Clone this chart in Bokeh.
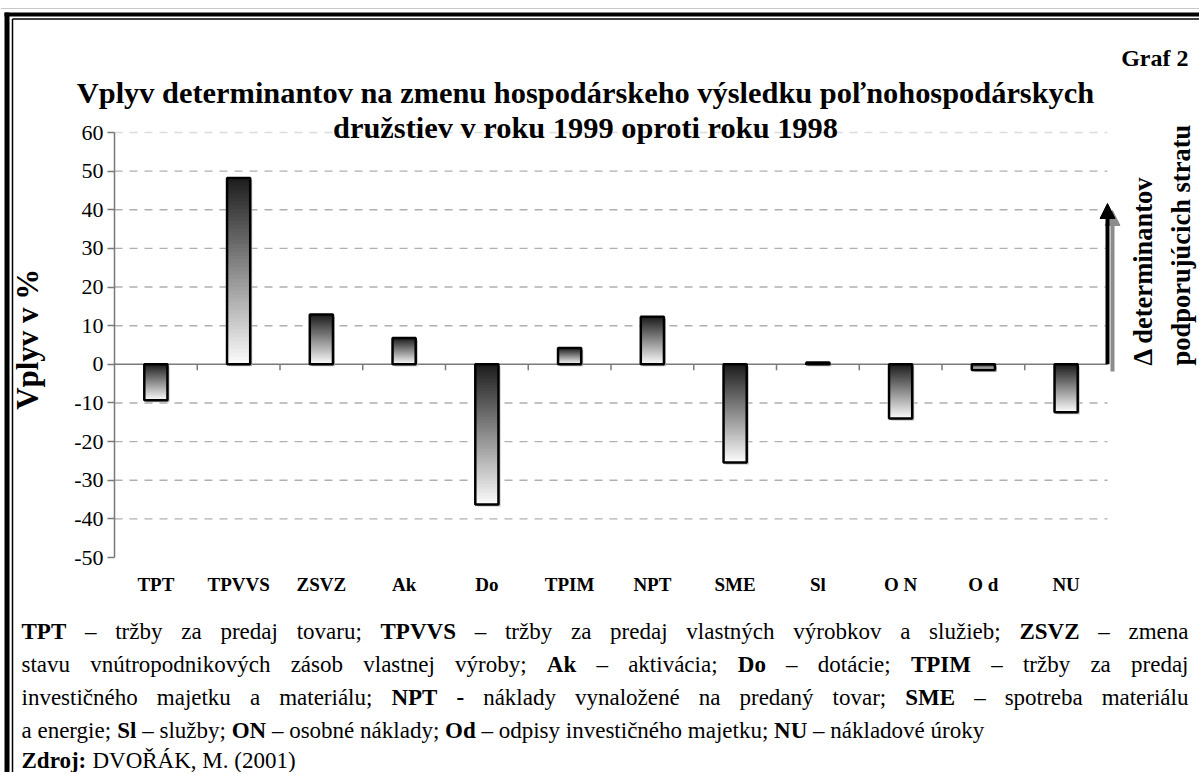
import math
import unicodedata
from bokeh.plotting import figure
from bokeh.models import (Range1d, FixedTicker, Label, LabelSet, ColumnDataSource,
                          Arrow, NormalHead, LinearAxis)
from bokeh.core.properties import value
from bokeh.embed import file_html
from bokeh.resources import INLINE

# ---------------- data ----------------
categories = ["TPT", "TPVVS", "ZSVZ", "Ak", "Do", "TPIM", "NPT", "SME", "Sl", "O N", "O d", "NU"]
values = [-9.3, 48.2, 12.9, 6.8, -36.3, 4.2, 12.3, -25.4, 0.5, -14.0, -1.5, -12.4]
y_ticks = [-50, -40, -30, -20, -10, 0, 10, 20, 30, 40, 50, 60]

title_lines = ["Vplyv determinantov na zmenu hospodárskeho výsledku poľnohospodárskych",
               "družstiev v roku 1999 oproti roku 1998"]
graf_label = "Graf 2"
y_label = "Vplyv  v  %"
side_lines = ["\u0394 determinantov", "podporujúcich stratu"]
note_lines = [
    "*TPT* – tržby za predaj tovaru; *TPVVS* – tržby za predaj vlastných výrobkov a služieb; *ZSVZ* – zmena",
    "stavu vnútropodnikových zásob vlastnej výroby; *Ak* – aktivácia; *Do* – dotácie; *TPIM* – tržby za predaj",
    "investičného majetku a materiálu; *NPT* *-* náklady vynaložené na predaný tovar; *SME* – spotreba materiálu",
    "a energie; *Sl* – služby; *ON* – osobné náklady; *Od* – odpisy investičného majetku; *NU* – nákladové úroky",
    "*Zdroj:* DVOŘÁK, M. (2001)",
]
note_justified = [True, True, True, False, False]

FONT = "Liberation Serif"

# ---------------- geometry (reference pixels) ----------------
FR_L, FR_R, FR_T, FR_B = 114.0, 1107.0, 132.0, 557.0
W, H = 1199, 772
ncat = len(categories)
ymin, ymax = min(y_ticks), max(y_ticks)


def X(rx):
    return (rx - FR_L) / (FR_R - FR_L) * ncat


def Y(ry):
    return ymax - (ry - FR_T) / (FR_B - FR_T) * (ymax - ymin)


px_y = (FR_B - FR_T) / (ymax - ymin)   # pixels per value unit
px_x = (FR_R - FR_L) / ncat            # pixels per category

p = figure(width=W, height=H, x_range=Range1d(X(0), X(W)), y_range=Range1d(Y(H), Y(0)),
           output_backend="svg", toolbar_location=None, x_axis_type=None, y_axis_type=None,
           min_border=0, min_border_left=0, min_border_right=0, min_border_top=0,
           min_border_bottom=0)
p.background_fill_color = "white"
p.border_fill_color = "white"
p.outline_line_color = None
p.grid.visible = False

# y axis
yax = LinearAxis(fixed_location=0, bounds=(ymin, ymax), ticker=FixedTicker(ticks=y_ticks),
                 major_label_overrides={t: str(t) for t in y_ticks})
yax.axis_line_color = "#7a7a7a"
yax.axis_line_width = 1.5
yax.major_tick_line_color = "#7a7a7a"
yax.major_tick_line_width = 1.5
yax.major_tick_in = 0
yax.major_tick_out = 7
yax.minor_tick_line_color = None
yax.major_label_text_font = FONT
yax.major_label_text_font_size = "22px"
yax.major_label_text_color = "black"
yax.major_label_standoff = 4
p.add_layout(yax, "left")

# x axis (category labels only)
centers = [i + 0.5 for i in range(ncat)]
xax = LinearAxis(fixed_location=ymin, bounds=(0, ncat), ticker=FixedTicker(ticks=centers),
                 major_label_overrides={c: name for c, name in zip(centers, categories)})
xax.axis_line_color = None
xax.major_tick_line_color = None
xax.major_tick_in = 0
xax.major_tick_out = 0
xax.minor_tick_line_color = None
xax.major_label_text_font = FONT
xax.major_label_text_font_style = "bold"
xax.major_label_text_font_size = "19px"
xax.major_label_text_color = "black"
xax.major_label_standoff = 16
p.add_layout(xax, "below")

# dashed grid lines
grid_vals = [t for t in y_ticks if t not in (0, ymin)]
grid_cols = ["#dcdcdc" if t == ymax else "#b0b0b0" for t in grid_vals]
p.segment(x0=[0] * len(grid_vals), x1=[ncat] * len(grid_vals), y0=grid_vals, y1=grid_vals,
          line_color=grid_cols, line_width=1.4, line_dash="8 7")

# zero line + category boundary ticks
p.segment(x0=[0], x1=[ncat], y0=[0], y1=[0], line_color="#7a7a7a", line_width=1.5)
bnd = list(range(1, ncat))
p.segment(x0=bnd, x1=bnd, y0=[0] * len(bnd), y1=[-6 / px_y] * len(bnd),
          line_color="#7a7a7a", line_width=1.5)

# bars with vertical gradient (dark top -> white bottom); each band overlaps down to the
# bar bottom so no seams appear between bands
bw = 0.28
N = 48
lefts, rights, tops, bots, cols = [], [], [], [], []
for c, v in zip(centers, values):
    top, bot = max(v, 0), min(v, 0)
    for k in range(N):
        t = top - (top - bot) * k / N
        g = int(round(28 + (252 - 28) * (k + 0.5) / N))
        lefts.append(c - bw / 2)
        rights.append(c + bw / 2)
        tops.append(t)
        bots.append(bot)
        cols.append("#%02x%02x%02x" % (g, g, g))

# shadow
sx, sy = 2 / px_x, 2 / px_y
p.quad(left=[c - bw / 2 + sx for c in centers], right=[c + bw / 2 + sx for c in centers],
       top=[max(v, 0) - sy for v in values], bottom=[min(v, 0) - sy for v in values],
       fill_color="#b8b8b8", line_color=None)
p.quad(left=lefts, right=rights, top=tops, bottom=bots, fill_color=cols, line_color=None)
p.quad(left=[c - bw / 2 for c in centers], right=[c + bw / 2 for c in centers],
       top=[max(v, 0) for v in values], bottom=[min(v, 0) for v in values],
       fill_color=None, line_color="black", line_width=2.5)

# arrows on the right
p.add_layout(Arrow(end=NormalHead(size=15, fill_color="#8c8c8c", line_color="#8c8c8c"),
                   x_start=X(1112), y_start=Y(371), x_end=X(1112), y_end=Y(210),
                   line_color="#8c8c8c", line_width=4))
p.add_layout(Arrow(end=NormalHead(size=15, fill_color="black", line_color="black"),
                   x_start=ncat, y_start=0, x_end=ncat, y_end=Y(203),
                   line_color="black", line_width=4))

# rotated side text
for txt, rx in zip(side_lines, [1142, 1180]):
    p.add_layout(Label(x=X(rx), y=Y(365), text=txt, angle=math.pi / 2,
                       text_align="left", text_baseline="middle",
                       text_font=FONT, text_font_style="bold", text_font_size="26.5px",
                       text_color="black"))

# y axis label
p.add_layout(Label(x=X(27), y=Y(331), text=y_label, angle=math.pi / 2,
                   text_align="center", text_baseline="middle",
                   text_font=FONT, text_font_style="bold", text_font_size="31px",
                   text_color="black"))

# title
for txt, ry in zip(title_lines, [92, 127]):
    p.add_layout(Label(x=X(585), y=Y(ry), text=txt, text_align="center",
                       text_baseline="middle", text_font=FONT, text_font_style="bold",
                       text_font_size="30.4px", text_color="black"))
p.add_layout(Label(x=X(1188), y=Y(57), text=graf_label, text_align="right",
                   text_baseline="middle", text_font=FONT, text_font_style="bold",
                   text_font_size="24px", text_color="black"))

# ---------------- footnote (justified, word by word) ----------------
REG = {' ': 250, 'a': 444, 'b': 500, 'c': 444, 'd': 500, 'e': 444, 'f': 333, 'g': 500, 'h': 500,
       'i': 278, 'j': 278, 'k': 500, 'l': 278, 'm': 778, 'n': 500, 'o': 500, 'p': 500, 'q': 500,
       'r': 333, 's': 389, 't': 278, 'u': 500, 'v': 500, 'w': 722, 'x': 500, 'y': 500, 'z': 444,
       'A': 722, 'B': 667, 'C': 667, 'D': 722, 'E': 611, 'F': 556, 'G': 722, 'H': 722, 'I': 333,
       'J': 389, 'K': 722, 'L': 611, 'M': 889, 'N': 722, 'O': 722, 'P': 556, 'Q': 722, 'R': 667,
       'S': 556, 'T': 611, 'U': 722, 'V': 722, 'W': 944, 'X': 722, 'Y': 722, 'Z': 611,
       ';': 278, ':': 278, ',': 250, '.': 250, '(': 333, ')': 333, '-': 333, '–': 500}
BLD = {' ': 250, 'a': 500, 'b': 556, 'c': 444, 'd': 556, 'e': 444, 'f': 333, 'g': 500, 'h': 556,
       'i': 278, 'j': 333, 'k': 556, 'l': 278, 'm': 833, 'n': 556, 'o': 500, 'p': 556, 'q': 556,
       'r': 444, 's': 389, 't': 333, 'u': 556, 'v': 500, 'w': 722, 'x': 500, 'y': 500, 'z': 444,
       'A': 722, 'B': 667, 'C': 722, 'D': 722, 'E': 667, 'F': 611, 'G': 778, 'H': 778, 'I': 389,
       'J': 500, 'K': 778, 'L': 667, 'M': 944, 'N': 722, 'O': 778, 'P': 611, 'Q': 778, 'R': 722,
       'S': 556, 'T': 667, 'U': 722, 'V': 722, 'W': 1000, 'X': 722, 'Y': 722, 'Z': 667,
       ';': 333, ':': 333, ',': 250, '.': 250, '(': 333, ')': 333, '-': 333, '–': 500}


def text_width(s, bold, size):
    tab = BLD if bold else REG
    tot = 0
    for ch in s:
        b = unicodedata.normalize("NFD", ch)[0]
        tot += tab.get(b, 500)
    return tot / 1000.0 * size


NOTE_SIZE = 23
NOTE_L, NOTE_R = 21, 1188
note_rows = [631, 664, 697, 730, 760]
reg_src = dict(x=[], y=[], text=[])
bld_src = dict(x=[], y=[], text=[])
for line, just, ry in zip(note_lines, note_justified, note_rows):
    toks = []
    for w in line.split(" "):
        bold = w.startswith("*") and w.endswith("*") and len(w) > 1
        toks.append((w.strip("*") if bold else w, bold))
    widths = [text_width(t, b, NOTE_SIZE) for t, b in toks]
    if just and len(toks) > 1:
        gap = (NOTE_R - NOTE_L - sum(widths)) / (len(toks) - 1)
    else:
        gap = 0.25 * NOTE_SIZE
    xcur = NOTE_L
    for (t, b), wdt in zip(toks, widths):
        src = bld_src if b else reg_src
        src["x"].append(X(xcur))
        src["y"].append(Y(ry))
        src["text"].append(t)
        xcur += wdt + gap

for src, style in [(reg_src, "normal"), (bld_src, "bold")]:
    p.add_layout(LabelSet(x="x", y="y", text="text", source=ColumnDataSource(src),
                          text_align="left", text_baseline="middle", text_font=value(FONT),
                          text_font_style=value(style),
                          text_font_size=value("%dpx" % NOTE_SIZE),
                          text_color="black"))

# ---------------- page frame (double line top/left) ----------------
frame_lines = [
    # (x0, y0, x1, y1, width, color) in reference pixels
    (0, 8, 1230, 8, 1, "#c8c8c8"),
    (4, 14, 1230, 14, 4, "black"),
    (6.5, 12, 6.5, 800, 5, "black"),
    (12, 18.5, 1230, 18.5, 1.5, "black"),
    (12, 18.5, 12, 800, 1.5, "black"),
]
for x0, y0, x1, y1, lw, lc in frame_lines:
    p.add_layout(Arrow(start=None, end=None, x_start=X(x0), y_start=Y(y0), x_end=X(x1),
                       y_end=Y(y1), line_width=lw, line_color=lc))

open("out.html", "w").write(file_html(p, INLINE))
